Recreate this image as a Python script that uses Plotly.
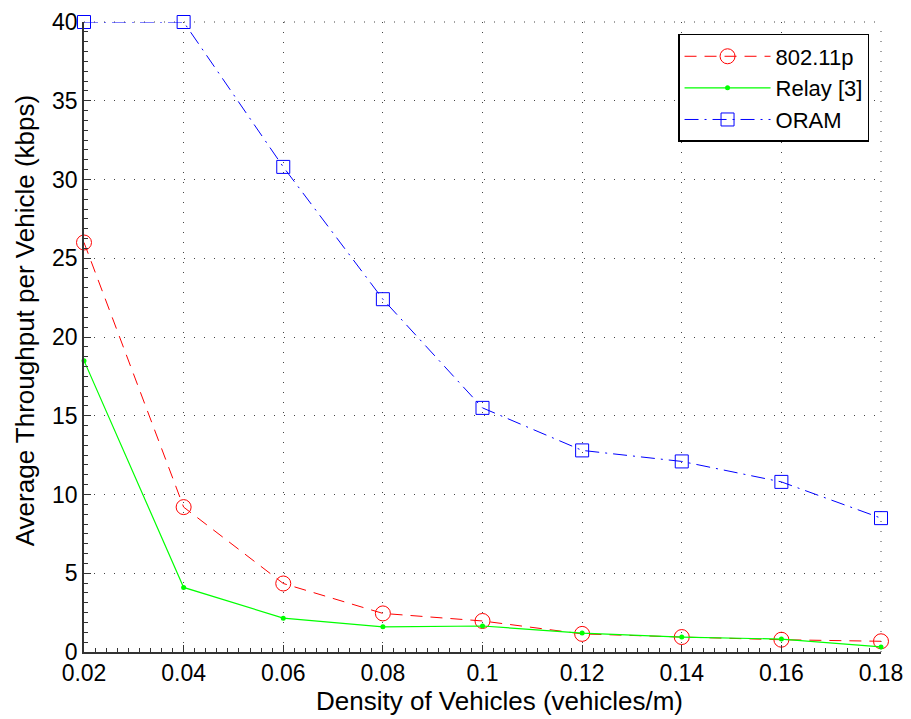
import plotly.graph_objects as go

density = [0.02, 0.04, 0.06, 0.08, 0.10, 0.12, 0.14, 0.16, 0.18]
p80211 = [26.0, 9.2, 4.35, 2.45, 1.97, 1.15, 0.95, 0.78, 0.68]
relay = [18.5, 4.1, 2.15, 1.6, 1.65, 1.2, 0.95, 0.82, 0.32]
oram = [40.0, 40.0, 30.8, 22.4, 15.5, 12.8, 12.1, 10.8, 8.5]
x_ticks = [0.02, 0.04, 0.06, 0.08, 0.10, 0.12, 0.14, 0.16, 0.18]
x_labels = ["0.02", "0.04", "0.06", "0.08", "0.1", "0.12", "0.14", "0.16", "0.18"]
y_ticks = [0, 5, 10, 15, 20, 25, 30, 35, 40]
x_title = "Density of Vehicles (vehicles/m)"
y_title = "Average Throughput per Vehicle (kbps)"

FONT = "Liberation Sans, Arial, sans-serif"
GRID_DASH = "1px,9px"
GRID_COLOR = "#444444"

fig = go.Figure()
fig.add_trace(go.Scatter(
    x=density, y=p80211, name="802.11p", mode="lines+markers", cliponaxis=False,
    line=dict(color="#ff0000", width=1, dash="12px,8px"),
    marker=dict(symbol="circle-open", size=15, color="#ff0000", line=dict(width=1)),
))
fig.add_trace(go.Scatter(
    x=density, y=relay, name="Relay [3]", mode="lines+markers", cliponaxis=False,
    line=dict(color="#00ff00", width=1.2),
    marker=dict(symbol="circle", size=5, color="#00ff00"),
))
fig.add_trace(go.Scatter(
    x=density, y=oram, name="ORAM", mode="lines+markers", cliponaxis=False,
    line=dict(color="#0000ff", width=1, dash="14px,6px,2px,6px"),
    marker=dict(symbol="square-open", size=13, color="#0000ff", line=dict(width=1)),
))

axis_common = dict(
    showline=True, linecolor="#333333", linewidth=1.5,
    ticks="inside", ticklen=7, tickcolor="#333333", tickwidth=1,
    showgrid=True, gridcolor=GRID_COLOR, gridwidth=1, griddash=GRID_DASH,
    zeroline=False, mirror=False, automargin=False,
    tickfont=dict(family=FONT, size=23, color="black"),
)

# dotted borders at the top and right edges (continuation of the grid)
fig.add_shape(type="line", xref="paper", yref="paper", x0=0, x1=1, y0=1, y1=1,
              line=dict(color=GRID_COLOR, width=1, dash=GRID_DASH), layer="below")
fig.add_shape(type="line", xref="paper", yref="paper", x0=1, x1=1, y0=0, y1=1,
              line=dict(color=GRID_COLOR, width=1, dash=GRID_DASH), layer="below")

# axis titles (placed as in the reference, slightly off-centre)
fig.add_annotation(text=x_title, xref="paper", yref="paper", x=0.521, y=-0.078,
                   xanchor="center", yanchor="middle", showarrow=False,
                   font=dict(family=FONT, size=26, color="black"))
fig.add_annotation(text=y_title, xref="paper", yref="paper", x=-0.074, y=0.525,
                   xanchor="center", yanchor="middle", showarrow=False, textangle=-90,
                   font=dict(family=FONT, size=26, color="black"))

# the page body has an 8px margin, so the figure is 8px smaller than the window
fig.update_layout(
    width=903, height=711,
    margin=dict(l=76, r=30, t=14, b=67),
    paper_bgcolor="white", plot_bgcolor="white",
    font=dict(family=FONT, color="black"),
    showlegend=True,
    legend=dict(
        x=0.985, y=0.981, xanchor="right", yanchor="top",
        bgcolor="white", bordercolor="black", borderwidth=1.5,
        font=dict(family=FONT, size=22, color="black"),
        itemwidth=86, tracegroupgap=0,
    ),
    xaxis=dict(
        axis_common,
        range=[0.02, 0.18], tickvals=x_ticks, ticktext=x_labels,
        minor=dict(ticks="inside", ticklen=4, tickcolor="#333333", dtick=0.02 / 9, tick0=0.02, showgrid=False),
    ),
    yaxis=dict(
        axis_common,
        range=[0, 40], tickvals=y_ticks,
        minor=dict(ticks="inside", ticklen=4, tickcolor="#333333", dtick=0.625, tick0=0, showgrid=False),
    ),
)

fig.write_html("out.html")
